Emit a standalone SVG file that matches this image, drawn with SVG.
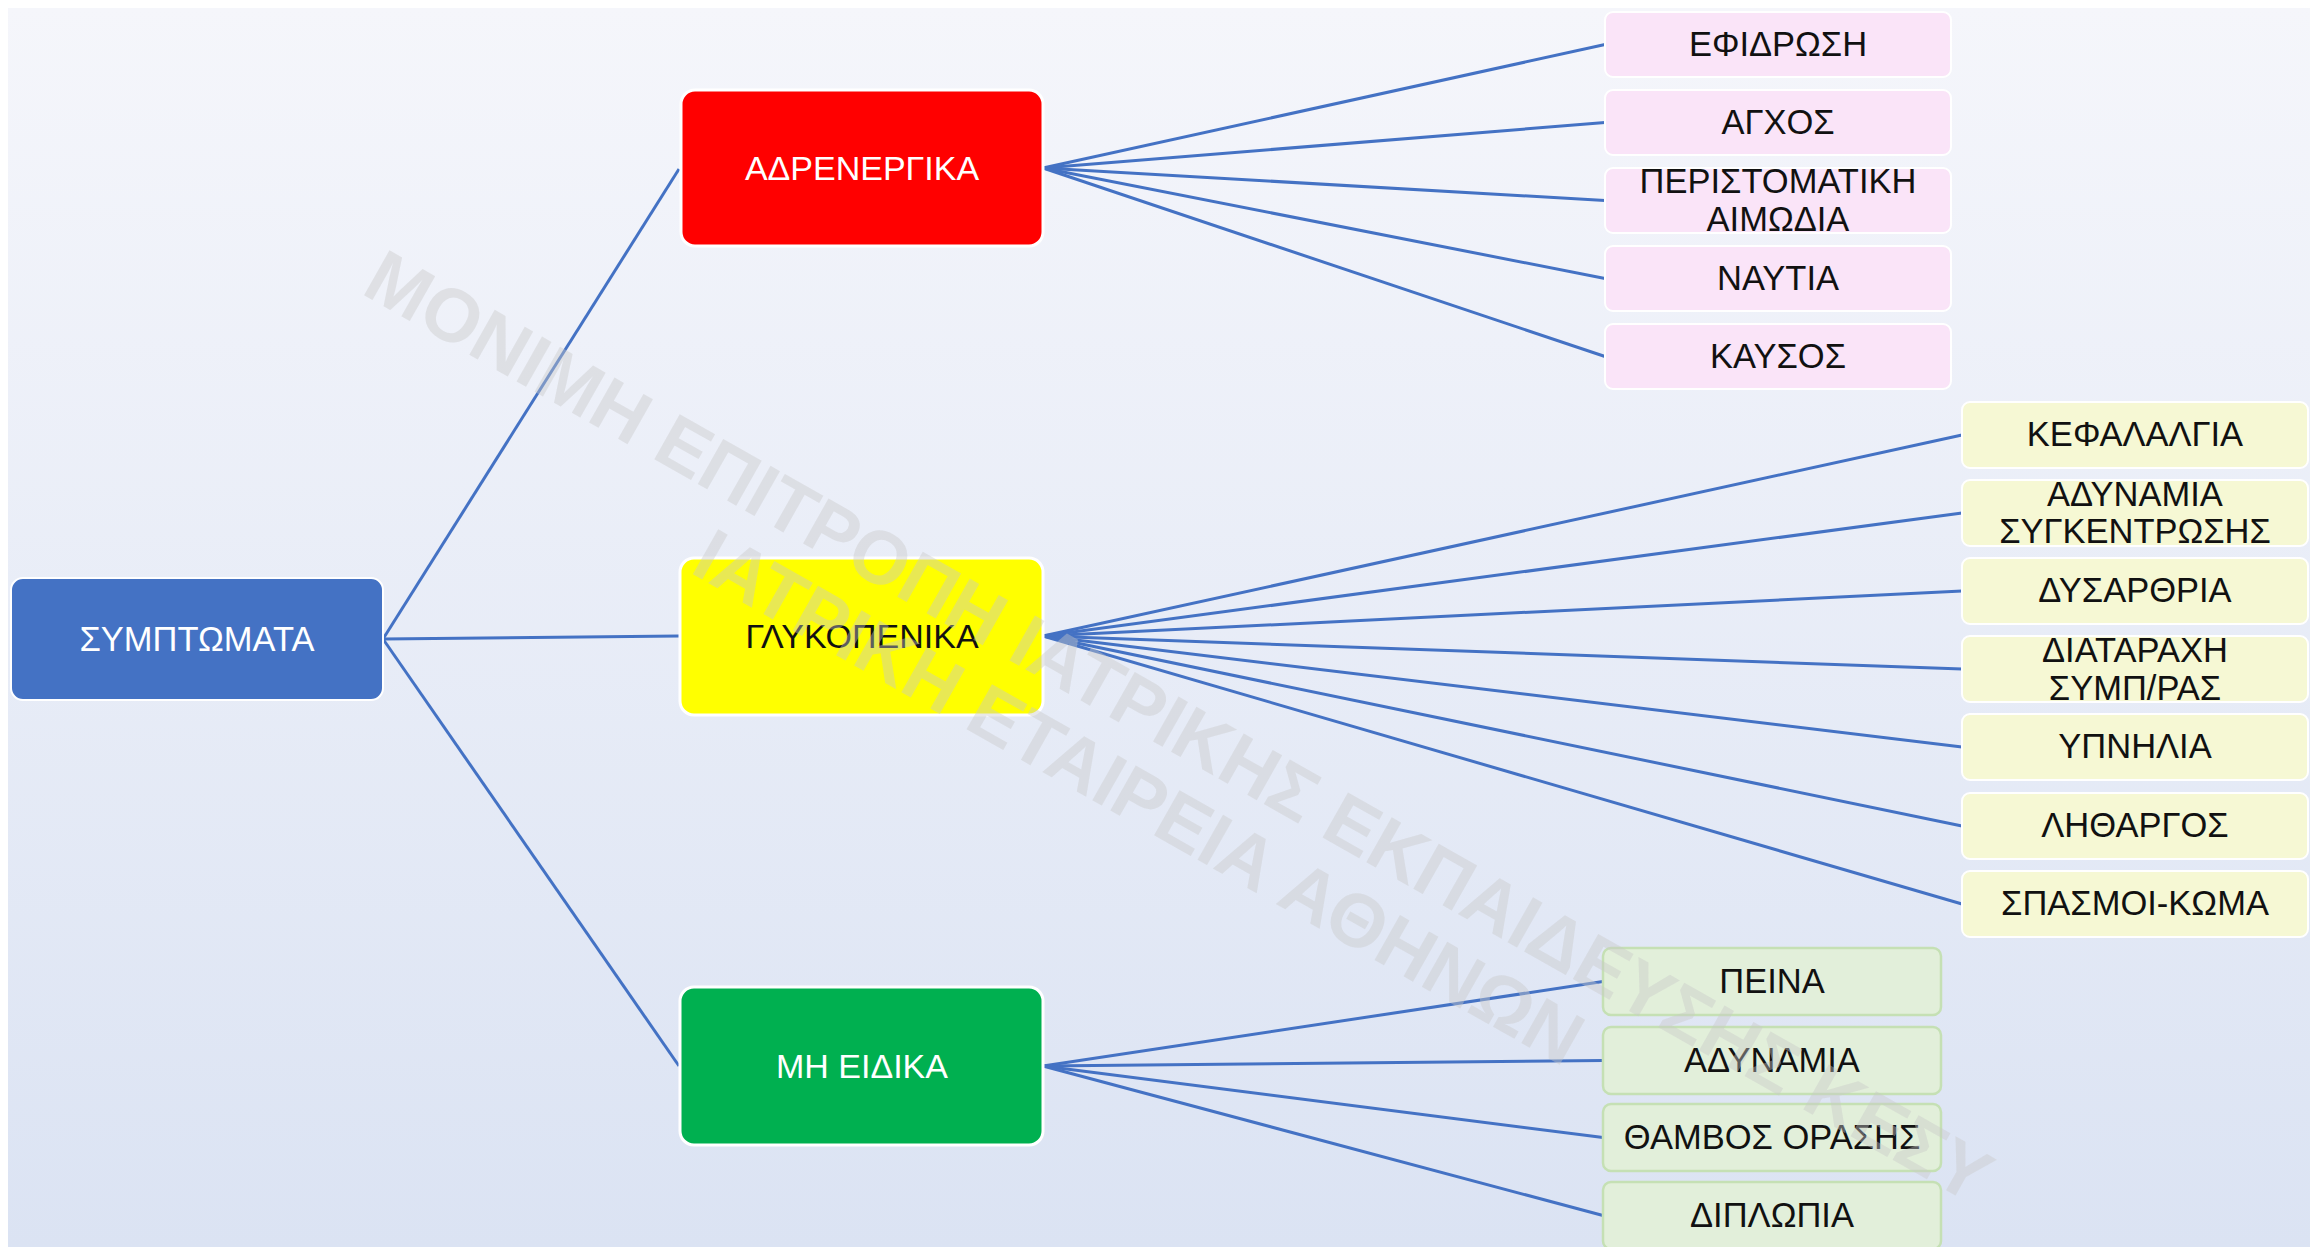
<svg xmlns="http://www.w3.org/2000/svg" width="2310" height="1247" viewBox="0 0 2310 1247">
<defs>
<linearGradient id="bg" x1="0" y1="0" x2="0" y2="1">
<stop offset="0" stop-color="#f5f6fb"/>
<stop offset="1" stop-color="#dbe3f3"/>
</linearGradient>
<style>
.conn{stroke:#4472c4;stroke-width:3;fill:none}
.mid{stroke:#ffffff;stroke-width:3}
.lbl{font-family:"Liberation Sans",Arial,sans-serif;text-anchor:middle}
.w{fill:#ffffff;font-size:34px}
.m{fill:#111111;font-size:34px}
.k{fill:#111111;font-size:34.5px}
.pink{fill:#fae4f8;stroke:#ffffff;stroke-width:2}
.yel{fill:#f6f8d4;stroke:#ffffff;stroke-width:2}
.grn{fill:#e2efda;stroke:#c5e0b4;stroke-width:2.5}
.wm{font-family:"Liberation Sans",Arial,sans-serif;font-weight:bold;font-size:75px;fill:#c8c8c8;fill-opacity:0.42;text-anchor:middle}
</style>
</defs>
<rect x="0" y="0" width="2310" height="1247" fill="#ffffff"/>
<rect x="8" y="8" width="2302" height="1239" fill="url(#bg)"/>

<g id="connectors">
<line class="conn" x1="383" y1="639" x2="679" y2="169"/>
<line class="conn" x1="383" y1="639" x2="679" y2="636"/>
<line class="conn" x1="383" y1="639" x2="679" y2="1066"/>
<line class="conn" x1="1043" y1="168" x2="1605" y2="44.5"/>
<line class="conn" x1="1043" y1="168" x2="1605" y2="122.5"/>
<line class="conn" x1="1043" y1="168" x2="1605" y2="200.5"/>
<line class="conn" x1="1043" y1="168" x2="1605" y2="278.5"/>
<line class="conn" x1="1043" y1="168" x2="1605" y2="356.5"/>
<line class="conn" x1="1043" y1="636" x2="1962" y2="435"/>
<line class="conn" x1="1043" y1="636" x2="1962" y2="513"/>
<line class="conn" x1="1043" y1="636" x2="1962" y2="591"/>
<line class="conn" x1="1043" y1="636" x2="1962" y2="669"/>
<line class="conn" x1="1043" y1="636" x2="1962" y2="747"/>
<line class="conn" x1="1043" y1="636" x2="1962" y2="826"/>
<line class="conn" x1="1043" y1="636" x2="1962" y2="904"/>
<line class="conn" x1="1043" y1="1066" x2="1603" y2="981.5"/>
<line class="conn" x1="1043" y1="1066" x2="1603" y2="1060.5"/>
<line class="conn" x1="1043" y1="1066" x2="1603" y2="1137.5"/>
<line class="conn" x1="1043" y1="1066" x2="1603" y2="1215.5"/>
</g>

<g id="root">
<rect x="11" y="578" width="372" height="122" rx="12" fill="#4472c4" stroke="#ffffff" stroke-width="2"/>
<text class="lbl" x="197" y="651" fill="#ffffff" font-size="34.5">ΣΥΜΠΤΩΜΑΤΑ</text>
</g>

<g id="adrenergika">
<rect class="mid" x="681" y="90" width="362" height="156" rx="14" fill="#ff0000"/>
<text class="lbl w" x="862" y="180">ΑΔΡΕΝΕΡΓΙΚΑ</text>
</g>
<g id="glykopenika">
<rect class="mid" x="680" y="558" width="363" height="157" rx="14" fill="#ffff00"/>
<text class="lbl m" x="862" y="648">ΓΛΥΚΟΠΕΝΙΚΑ</text>
</g>
<g id="mh-eidika">
<rect class="mid" x="680" y="987" width="363" height="158" rx="14" fill="#00b050"/>
<text class="lbl w" x="862" y="1078">ΜΗ ΕΙΔΙΚΑ</text>
</g>

<g id="efidrosi"><rect class="pink" x="1605" y="12" width="346" height="65" rx="8"/><text class="lbl k" x="1778" y="56">ΕΦΙΔΡΩΣΗ</text></g>
<g id="agxos"><rect class="pink" x="1605" y="90" width="346" height="65" rx="8"/><text class="lbl k" x="1778" y="134">ΑΓΧΟΣ</text></g>
<g id="peristomatiki"><rect class="pink" x="1605" y="168" width="346" height="65" rx="8"/><text class="lbl k" x="1778" y="193">ΠΕΡΙΣΤΟΜΑΤΙΚΗ</text><text class="lbl k" x="1778" y="231">ΑΙΜΩΔΙΑ</text></g>
<g id="nautia"><rect class="pink" x="1605" y="246" width="346" height="65" rx="8"/><text class="lbl k" x="1778" y="290">ΝΑΥΤΙΑ</text></g>
<g id="kausos"><rect class="pink" x="1605" y="324" width="346" height="65" rx="8"/><text class="lbl k" x="1778" y="368">ΚΑΥΣΟΣ</text></g>

<g id="kefalalgia"><rect class="yel" x="1962" y="402" width="346" height="66" rx="8"/><text class="lbl k" x="2135" y="446">ΚΕΦΑΛΑΛΓΙΑ</text></g>
<g id="adynamia-sygkentrosis"><rect class="yel" x="1962" y="480" width="346" height="66" rx="8"/><text class="lbl k" x="2135" y="506">ΑΔΥΝΑΜΙΑ</text><text class="lbl k" x="2135" y="543">ΣΥΓΚΕΝΤΡΩΣΗΣ</text></g>
<g id="dysarthria"><rect class="yel" x="1962" y="558" width="346" height="66" rx="8"/><text class="lbl k" x="2135" y="602">ΔΥΣΑΡΘΡΙΑ</text></g>
<g id="diataraxi"><rect class="yel" x="1962" y="636" width="346" height="66" rx="8"/><text class="lbl k" x="2135" y="662">ΔΙΑΤΑΡΑΧΗ</text><text class="lbl k" x="2135" y="700">ΣΥΜΠ/ΡΑΣ</text></g>
<g id="ypnilia"><rect class="yel" x="1962" y="714" width="346" height="66" rx="8"/><text class="lbl k" x="2135" y="758">ΥΠΝΗΛΙΑ</text></g>
<g id="lithargos"><rect class="yel" x="1962" y="793" width="346" height="66" rx="8"/><text class="lbl k" x="2135" y="837">ΛΗΘΑΡΓΟΣ</text></g>
<g id="spasmoi"><rect class="yel" x="1962" y="871" width="346" height="66" rx="8"/><text class="lbl k" x="2135" y="915">ΣΠΑΣΜΟΙ-ΚΩΜΑ</text></g>

<g id="peina"><rect class="grn" x="1603" y="948" width="338" height="67" rx="8"/><text class="lbl k" x="1772" y="993">ΠΕΙΝΑ</text></g>
<g id="adynamia"><rect class="grn" x="1603" y="1027" width="338" height="67" rx="8"/><text class="lbl k" x="1772" y="1072">ΑΔΥΝΑΜΙΑ</text></g>
<g id="thamvos"><rect class="grn" x="1603" y="1104" width="338" height="67" rx="8"/><text class="lbl k" x="1772" y="1149">ΘΑΜΒΟΣ ΟΡΑΣΗΣ</text></g>
<g id="diplopia"><rect class="grn" x="1603" y="1182" width="338" height="67" rx="8"/><text class="lbl k" x="1772" y="1227">ΔΙΠΛΩΠΙΑ</text></g>

<g id="watermark" transform="translate(355,290) rotate(29.5)">
<text class="wm" x="932" y="0">ΜΟΝΙΜΗ ΕΠΙΤΡΟΠΗ ΙΑΤΡΙΚΗΣ ΕΚΠΑΙΔΕΥΣΗΣ ΚΕΣΥ</text>
<text class="wm" x="932" y="81">ΙΑΤΡΙΚΗ ΕΤΑΙΡΕΙΑ ΑΘΗΝΩΝ</text>
</g>
</svg>
